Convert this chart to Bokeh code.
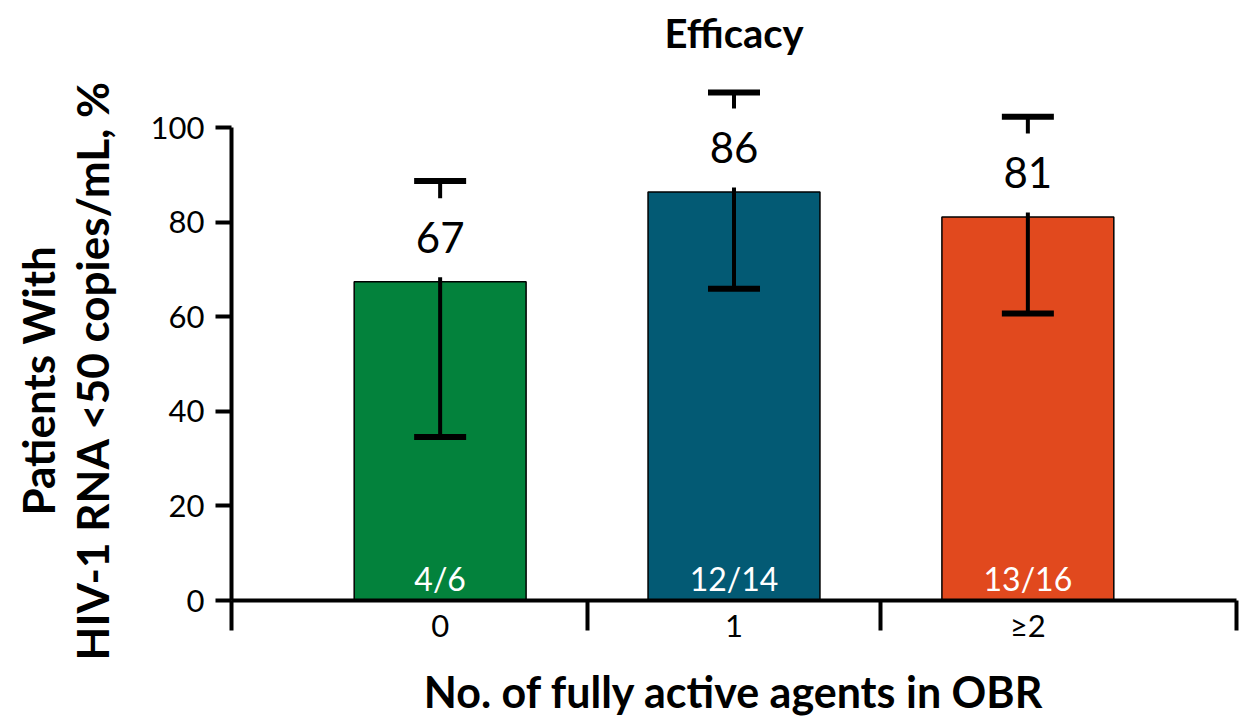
from bokeh.plotting import figure
from bokeh.models import FixedTicker, Range1d, ColumnDataSource, Title
from bokeh.core.properties import value
from bokeh.embed import file_html
from bokeh.resources import INLINE

# ---- data ----
categories = ["0", "1", "≥2"]
percent = [67.4, 86.4, 81.1]
value_labels = ["67", "86", "81"]
ci_lower = [34.6, 65.9, 60.7]
ci_upper = [88.7, 107.4, 102.3]
fractions = ["4/6", "12/14", "13/16"]
bar_colors = ["#03823C", "#035A74", "#E1491E"]
y_ticks = [0, 20, 40, 60, 80, 100]

xs = list(range(len(categories)))
x_start, x_end = -0.71, len(categories) - 1 + 0.71
# group boundaries (minor ticks) : range ends + midpoints between categories
boundaries = [x_start] + [i + 0.5 for i in xs[:-1]] + [x_end]

src = ColumnDataSource(dict(x=xs, top=percent, lab=value_labels, lo=ci_lower,
                            hi=ci_upper, frac=fractions, color=bar_colors,
                            zero=[0] * len(xs)))

FONT = "Lato"

p = figure(frame_width=1005, frame_height=541,
           min_border_left=231, min_border_right=12, min_border_top=59,
           min_border_bottom=116,
           x_range=Range1d(x_start, x_end), y_range=Range1d(0, 114.4),
           output_backend="svg", toolbar_location=None,
           title="Efficacy")
p.outline_line_color = None
p.xgrid.grid_line_color = None
p.ygrid.grid_line_color = None
p.background_fill_color = "white"
p.border_fill_color = "white"

p.title.align = "center"
p.title.text_font = FONT
p.title.text_font_size = "40px"
p.title.text_font_style = "bold"
p.title.text_color = "black"
p.title.standoff = 6

# bars
p.vbar(x="x", top="top", width=0.585, source=src, fill_color="color",
       line_color="black", line_width=1.5)

# error bars
p.segment(x0="x", y0="lo", x1="x", y1="hi", source=src, line_color="black",
          line_width=4)
p.scatter(x="x", y="hi", source=src, marker="dash", size=52, line_width=6,
          line_color="black")
p.scatter(x="x", y="lo", source=src, marker="dash", size=52, line_width=6,
          line_color="black")

# value labels (white box interrupts whisker)
p.text(x="x", y="top", text="lab", source=src, y_offset=-44,
       text_align="center", text_baseline="middle",
       text_font=value(FONT), text_font_size="42px", text_color="black",
       background_fill_color="white", padding=24)

# fractions inside bars
p.text(x="x", y="zero", text="frac", source=src, y_offset=-22,
       text_align="center", text_baseline="middle",
       text_font=value(FONT), text_font_size="32px", text_color="white")

# x axis
xa = p.xaxis[0]
xa.ticker = FixedTicker(ticks=xs, minor_ticks=boundaries)
xa.major_label_overrides = {i: c for i, c in zip(xs, categories)}
xa.major_tick_line_color = None
xa.major_tick_out = 0
xa.major_tick_in = 0
xa.minor_tick_out = 30
xa.minor_tick_in = 0
xa.minor_tick_line_width = 4
xa.minor_tick_line_color = "black"
xa.axis_line_width = 4
xa.axis_line_color = "black"
xa.major_label_standoff = -25
xa.major_label_text_font = FONT
xa.major_label_text_font_size = "31px"
xa.major_label_text_color = "black"
xa.axis_label = "No. of fully active agents in OBR"
xa.axis_label_text_font = FONT
xa.axis_label_text_font_size = "43px"
xa.axis_label_text_font_style = "bold"
xa.axis_label_text_color = "black"
xa.axis_label_standoff = 19

# y axis
ya = p.yaxis[0]
ya.ticker = FixedTicker(ticks=y_ticks)
ya.bounds = (y_ticks[0], y_ticks[-1])
ya.major_tick_out = 16
ya.major_tick_in = 0
ya.major_tick_line_width = 4
ya.major_tick_line_color = "black"
ya.minor_tick_line_color = None
ya.axis_line_width = 4
ya.axis_line_color = "black"
ya.major_label_standoff = 11
ya.major_label_text_font = FONT
ya.major_label_text_font_size = "31px"
ya.major_label_text_color = "black"

# spacer between axis and the two-line y title
p.add_layout(Title(text=" ", text_font_size="1px", standoff=27), "left")
# two-line y-axis title (inner line first, closest to the axis)
ylab_lines = ["HIV-1 RNA <50 copies/mL, %", "Patients With"]
ylab_offsets = [-60, 85]
for line, off in zip(ylab_lines, ylab_offsets):
    t = Title(text=line, align="left", offset=off, text_font=FONT,
              text_font_size="44px", text_font_style="bold",
              text_color="black", standoff=0)
    p.add_layout(t, "left")

open("out.html", "w").write(file_html(p, INLINE))
